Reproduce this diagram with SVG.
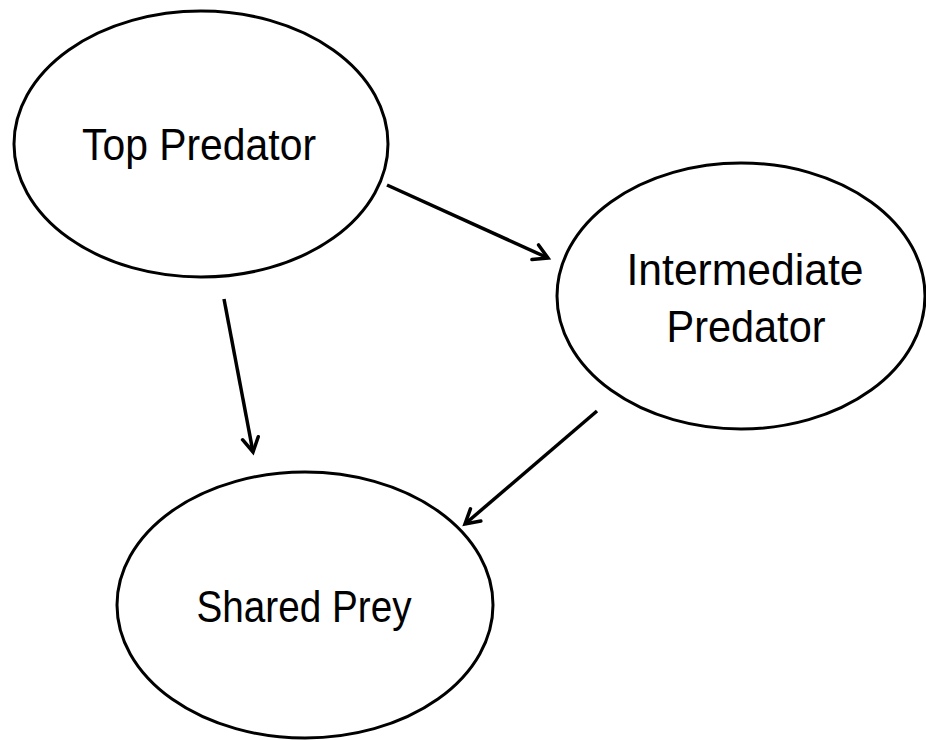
<svg xmlns="http://www.w3.org/2000/svg" width="926" height="740" viewBox="0 0 926 740">
<defs>
<style>
.node ellipse{fill:#fff;stroke:#000;stroke-width:3}
.node text{font-family:"Liberation Sans",Arial,sans-serif;font-size:44px;fill:#000;text-anchor:middle}
.edge{stroke:#000;stroke-width:3.5;fill:none;marker-end:url(#arr)}
</style>
<marker id="arr" markerUnits="userSpaceOnUse" viewBox="-20 -12 24 24" refX="0" refY="0" markerWidth="24" markerHeight="24" orient="auto" overflow="visible">
<path d="M-14,-8 L0,0 L-14,8" fill="none" stroke="#000" stroke-width="3.5" stroke-linecap="round" stroke-linejoin="miter"/>
</marker>
</defs>
<rect width="926" height="740" fill="#fff"/>
<g id="top-predator" class="node">
<ellipse cx="201" cy="144" rx="187" ry="133"/>
<text x="199" y="160" textLength="234" lengthAdjust="spacingAndGlyphs">Top Predator</text>
</g>
<g id="intermediate-predator" class="node">
<ellipse cx="741" cy="296" rx="184" ry="133"/>
<text x="745" y="285" textLength="237" lengthAdjust="spacingAndGlyphs">Intermediate</text>
<text x="746" y="342" textLength="159" lengthAdjust="spacingAndGlyphs">Predator</text>
</g>
<g id="shared-prey" class="node">
<ellipse cx="305" cy="605" rx="188" ry="133"/>
<text x="304" y="622" textLength="215" lengthAdjust="spacingAndGlyphs">Shared Prey</text>
</g>
<g id="connectors">
<line class="edge" x1="387" y1="185" x2="548" y2="258"/>
<line class="edge" x1="224" y1="299" x2="253" y2="452"/>
<line class="edge" x1="597" y1="411" x2="465" y2="524"/>
</g>
</svg>
